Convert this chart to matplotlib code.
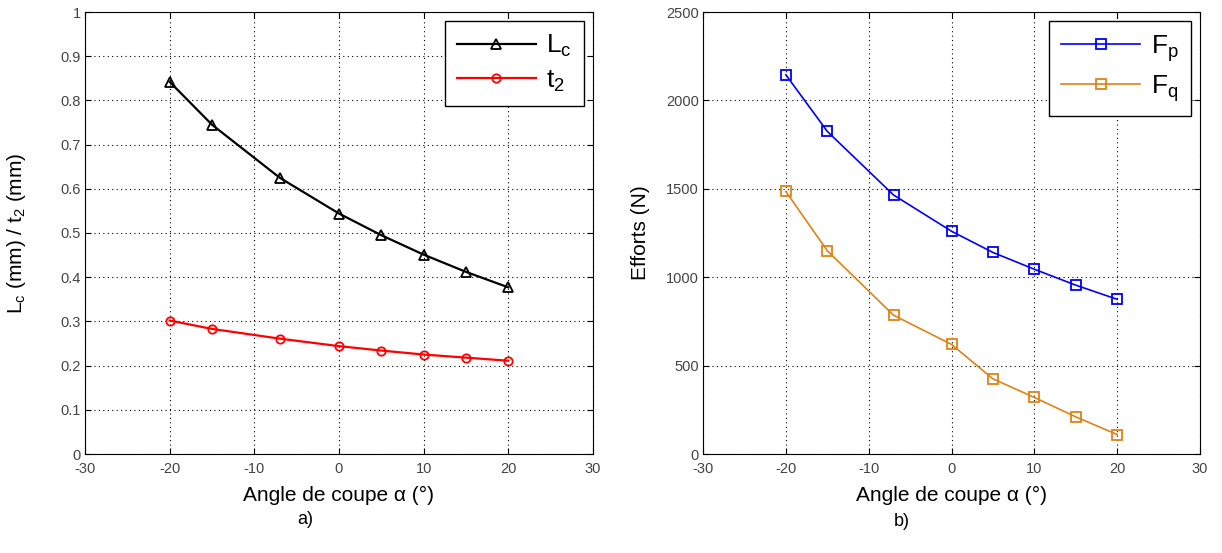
import numpy as np
import matplotlib
matplotlib.use('Agg')
import matplotlib.pyplot as plt

plt.rcParams['font.family'] = ['Liberation Sans', 'DejaVu Sans']
plt.rcParams['mathtext.fontset'] = 'custom'
plt.rcParams['mathtext.rm'] = 'Liberation Sans'
plt.rcParams['axes.unicode_minus'] = False

# data
angle = [-20, -15, -7, 0, 5, 10, 15, 20]
lc = [0.842, 0.745, 0.625, 0.544, 0.495, 0.451, 0.412, 0.377]
t2 = [0.302, 0.283, 0.261, 0.244, 0.234, 0.225, 0.218, 0.211]
fp = [2145, 1825, 1465, 1260, 1140, 1045, 955, 875]
fq = [1485, 1150, 785, 620, 425, 320, 210, 110]

orange = '#e08214'
tick_col = '#444444'


def style_ax(ax):
    ax.set_xlim(-30, 30)
    ax.set_xticks(np.arange(-30, 31, 10))
    ax.grid(True, linestyle=(0, (1, 3)), color='black', linewidth=0.8)
    ax.tick_params(direction='in', labelsize=10.5, colors='black',
                   labelcolor=tick_col, length=4, top=True, right=True)
    ax.tick_params(axis='x', pad=6)
    ax.tick_params(axis='y', pad=3)
    for s in ax.spines.values():
        s.set_linewidth(0.8)
    ax.set_xlabel('Angle de coupe α (°)', fontsize=15, labelpad=7)


fig = plt.figure(figsize=(12.22, 5.53), dpi=100)
ax1 = fig.add_axes([85/1222, 99/553, 508/1222, 442/553])
ax2 = fig.add_axes([703/1222, 99/553, 497/1222, 442/553])

ax1.plot(angle, lc, '-^', color='black', lw=1.6, ms=7, mfc='none', mew=1.3,
         label='$\\mathregular{L_c}$')
ax1.plot(angle, t2, '-o', color='red', lw=1.6, ms=6, mfc='none', mew=1.3,
         label='$\\mathregular{t_2}$')
ax1.set_ylim(0, 1)
ax1.set_yticks(np.arange(0, 1.01, 0.1))
ax1.set_yticklabels(['0', '0.1', '0.2', '0.3', '0.4', '0.5', '0.6', '0.7', '0.8', '0.9', '1'])
style_ax(ax1)
ax1.set_ylabel('$\\mathregular{L_c}$ (mm) / $\\mathregular{t_2}$ (mm)', fontsize=15)
ax1.yaxis.set_label_coords(-0.112, 0.5)

ax2.plot(angle, fp, '-s', color='blue', lw=1.2, ms=7, mfc='none', mew=1.3,
         label='$\\mathregular{F_p}$')
ax2.plot(angle, fq, '-s', color=orange, lw=1.2, ms=7, mfc='none', mew=1.3,
         label='$\\mathregular{F_q}$')
ax2.set_ylim(0, 2500)
ax2.set_yticks(np.arange(0, 2501, 500))
style_ax(ax2)
ax2.set_ylabel('Efforts (N)', fontsize=15)
ax2.yaxis.set_label_coords(-0.107, 0.5)

for ax in (ax1, ax2):
    leg = ax.legend(loc='upper right', fontsize=19, fancybox=False, framealpha=1,
                    edgecolor='black', handlelength=3.0, borderaxespad=0.35,
                    labelspacing=0.35, handletextpad=0.4, borderpad=0.45)
    leg.get_frame().set_linewidth(1.0)

fig.text(305/1222, 1 - 520/553, 'a)', ha='center', va='center', fontsize=13)
fig.text(902/1222, 1 - 521/553, 'b)', ha='center', va='center', fontsize=13)

fig.savefig('out.png', dpi=100)
